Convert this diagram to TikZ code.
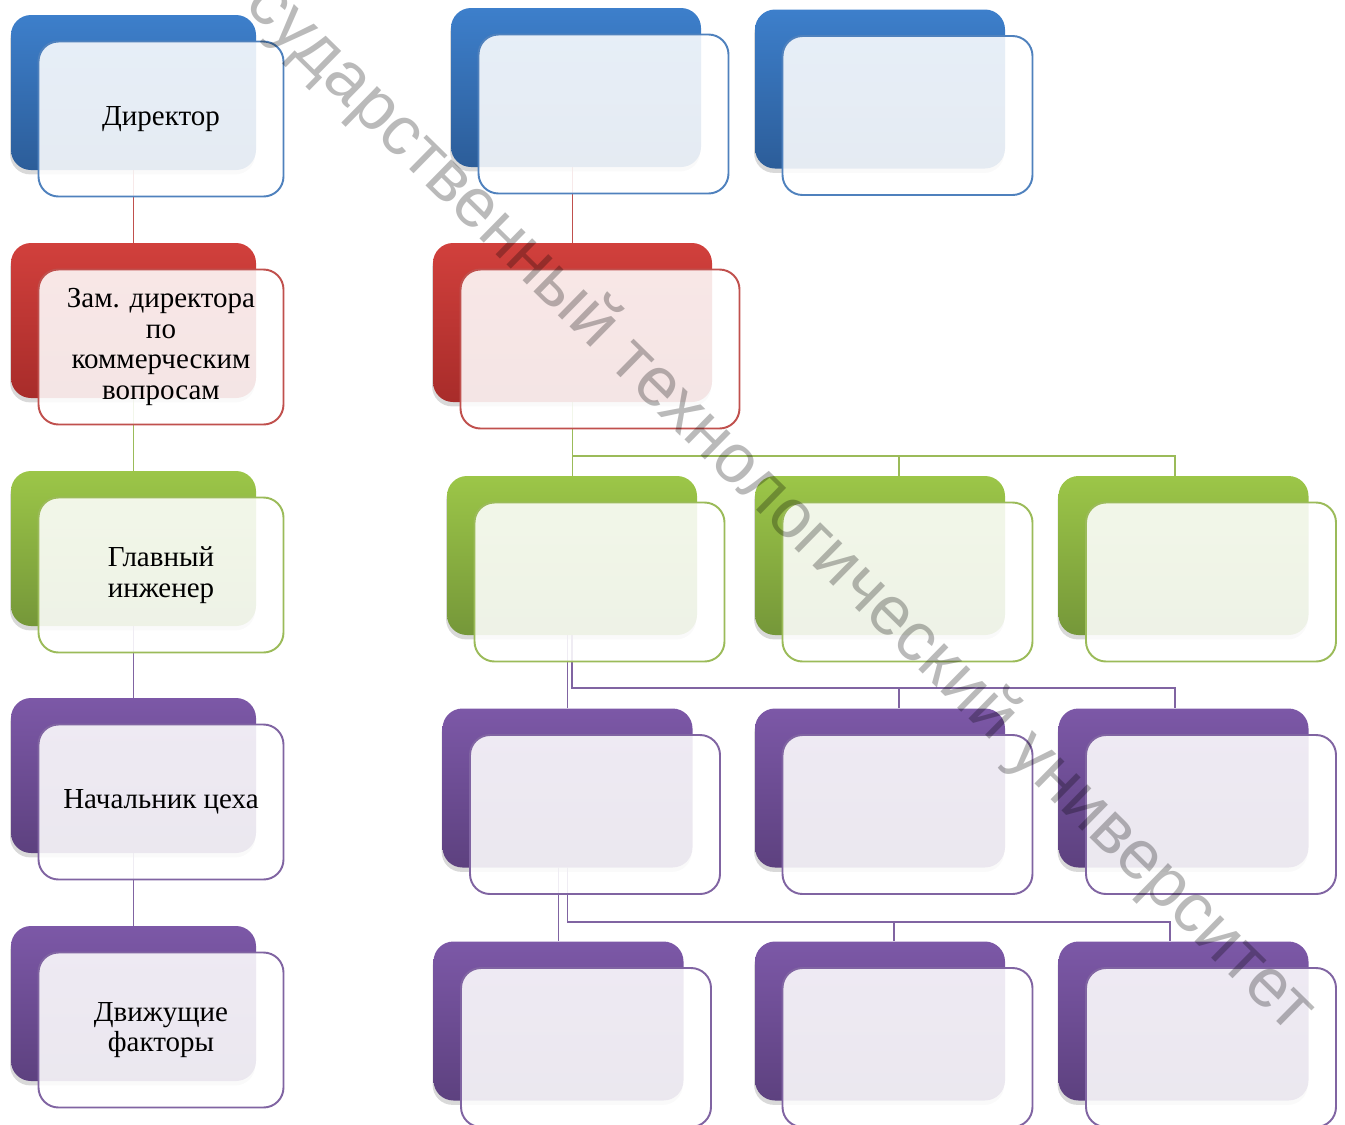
\documentclass[tikz,border=0pt]{standalone}
\usepackage{fontspec}
\setmainfont{Liberation Serif}
\newfontfamily\wmfont{Liberation Sans}
\usepackage{tikz}
\usetikzlibrary{calc}
\usetikzlibrary{shadows}
\usetikzlibrary{backgrounds}

\definecolor{bluetop}{RGB}{61,127,203}
\definecolor{bluebot}{RGB}{44,93,153}
\definecolor{blueline}{RGB}{79,129,189}
\definecolor{redtop}{RGB}{209,64,60}
\definecolor{redbot}{RGB}{168,44,42}
\definecolor{redline}{RGB}{192,80,77}
\definecolor{greentop}{RGB}{156,198,72}
\definecolor{greenbot}{RGB}{117,151,57}
\definecolor{greenline}{RGB}{155,187,89}
\definecolor{purpletop}{RGB}{124,88,167}
\definecolor{purplebot}{RGB}{93,65,127}
\definecolor{purpleline}{RGB}{128,100,162}

\begin{document}
\begin{tikzpicture}[
	back/.style={rounded corners=.4cm, minimum width=5cm, minimum height=3.18cm, inner sep=0pt,
		drop shadow={opacity=.3, shadow xshift=-.5pt, shadow yshift=-2.5pt}},
	front/.style={draw, line width=1.1pt, rounded corners=.4cm, minimum width=5cm, minimum height=3.18cm,
		fill=white, fill opacity=.88, text opacity=1, align=center, inner sep=0pt,
		font=\fontsize{16.5}{17.5}\selectfont},
	narrow/.style={minimum width=4.9cm, minimum height=3.1cm},
	wide/.style={minimum width=5.58cm},
	blueback/.style={back, top color=bluetop, bottom color=bluebot},
	redback/.style={back, top color=redtop, bottom color=redbot},
	greenback/.style={back, top color=greentop, bottom color=greenbot},
	purpleback/.style={back, top color=purpletop, bottom color=purplebot},
	link/.style={line width=1.1pt},
	]
	\useasboundingbox (0,0) rectangle (26.9,-22.48);
	\clip (0,0) rectangle (26.9,-22.48);
	%%%%%%%%%%%%%%% left column
	\node[blueback,narrow] (lb1) at (2.67,-1.85) {};
	\node[front,narrow,draw=blueline] (lf1) at ($(lb1)+(.55,-.53)$) {Директор};
	\node[redback,narrow] (lb2) at (2.67,-6.41) {};
	\node[front,narrow,draw=redline] (lf2) at ($(lb2)+(.55,-.53)$) {Зам. директора\\по\\коммерческим\\вопросам};
	\node[greenback,narrow] (lb3) at (2.67,-10.97) {};
	\node[front,narrow,draw=greenline] (lf3) at ($(lb3)+(.55,-.53)$) {Главный\\инженер};
	\node[purpleback,narrow] (lb4) at (2.67,-15.51) {};
	\node[front,narrow,draw=purpleline] (lf4) at ($(lb4)+(.55,-.53)$) {Начальник цеха};
	\node[purpleback,narrow] (lb5) at (2.67,-20.07) {};
	\node[front,narrow,draw=purpleline] (lf5) at ($(lb5)+(.55,-.53)$) {Движущие\\факторы};
	%%%%%%%%%%%%%%% top row
	\node[blueback] (ab) at (11.52,-1.75) {};
	\node[front,draw=blueline] (af) at ($(ab)+(.55,-.53)$) {};
	\node[blueback] (bb) at (17.6,-1.78) {};
	\node[front,draw=blueline] (bf) at ($(bb)+(.55,-.53)$) {};
	%%%%%%%%%%%%%%% second row
	\node[redback,wide] (rb) at (11.45,-6.45) {};
	\node[front,wide,draw=redline] (rf) at ($(rb)+(.55,-.53)$) {};
	%%%%%%%%%%%%%%% third row
	\node[greenback] (g1b) at (11.44,-11.11) {};
	\node[front,draw=greenline] (g1f) at ($(g1b)+(.55,-.53)$) {};
	\node[greenback] (g2b) at (17.6,-11.11) {};
	\node[front,draw=greenline] (g2f) at ($(g2b)+(.55,-.53)$) {};
	\node[greenback] (g3b) at (23.67,-11.11) {};
	\node[front,draw=greenline] (g3f) at ($(g3b)+(.55,-.53)$) {};
	%%%%%%%%%%%%%%% fourth row
	\node[purpleback] (p1b) at (11.35,-15.76) {};
	\node[front,draw=purpleline] (p1f) at ($(p1b)+(.55,-.53)$) {};
	\node[purpleback] (p2b) at (17.6,-15.76) {};
	\node[front,draw=purpleline] (p2f) at ($(p2b)+(.55,-.53)$) {};
	\node[purpleback] (p3b) at (23.67,-15.76) {};
	\node[front,draw=purpleline] (p3f) at ($(p3b)+(.55,-.53)$) {};
	%%%%%%%%%%%%%%% fifth row
	\node[purpleback] (q1b) at (11.17,-20.42) {};
	\node[front,draw=purpleline] (q1f) at ($(q1b)+(.55,-.53)$) {};
	\node[purpleback] (q2b) at (17.6,-20.42) {};
	\node[front,draw=purpleline] (q2f) at ($(q2b)+(.55,-.53)$) {};
	\node[purpleback] (q3b) at (23.67,-20.42) {};
	\node[front,draw=purpleline] (q3f) at ($(q3b)+(.55,-.53)$) {};
	%%%%%%%%%%%%%%% connectors
	\begin{pgfonlayer}{background}
		\draw[link,redline] (lb1.south) -- (lb2.north);
		\draw[link,greenline] (lb2.south) -- (lb3.north);
		\draw[link,purpleline] (lb3.south) -- (lb4.north);
		\draw[link,purpleline] (lb4.south) -- (lb5.north);
		%
		\draw[link,redline] (rb.north |- ab.south) -- (rb.north);
		\coordinate (rg) at ($(rb.south)+(0,-1.08)$);
		\draw[link,greenline] (rb.south) -- (rb.south |- g1b.north);
		\draw[link,greenline] (rb.south) -- (rg) -| ([xshift=.38cm]g2b.north);
		\draw[link,greenline] (rg) -| ([xshift=-.17cm]g3b.north);
		%
		\draw[link,purpleline] (p1b.north |- g1b.south) -- (p1b.north);
		\coordinate (gp) at ($(g1b.south)+(0,-1.06)$);
		\draw[link,purpleline] (g1b.south) -- (gp) -| ([xshift=.38cm]p2b.north);
		\draw[link,purpleline] (gp) -| ([xshift=-.17cm]p3b.north);
		%
		\draw[link,purpleline] (q1b.north |- p1b.south) -- (q1b.north);
		\coordinate (pq) at ($(p1b.south)+(0,-1.08)$);
		\draw[link,purpleline] (p1b.south) -- (pq) -| ([xshift=.28cm]q2b.north);
		\draw[link,purpleline] (pq) -| ([xshift=-.27cm]q3b.north);
	\end{pgfonlayer}
	%%%%%%%%%%%%%%% watermark
	\node[rotate=-44.5, text=black, text opacity=.27, font=\wmfont\fontsize{39.5}{39.5}\selectfont] (wm) at (15.6,-10.15) {сударственный технологический университет};
\end{tikzpicture}
\end{document}
